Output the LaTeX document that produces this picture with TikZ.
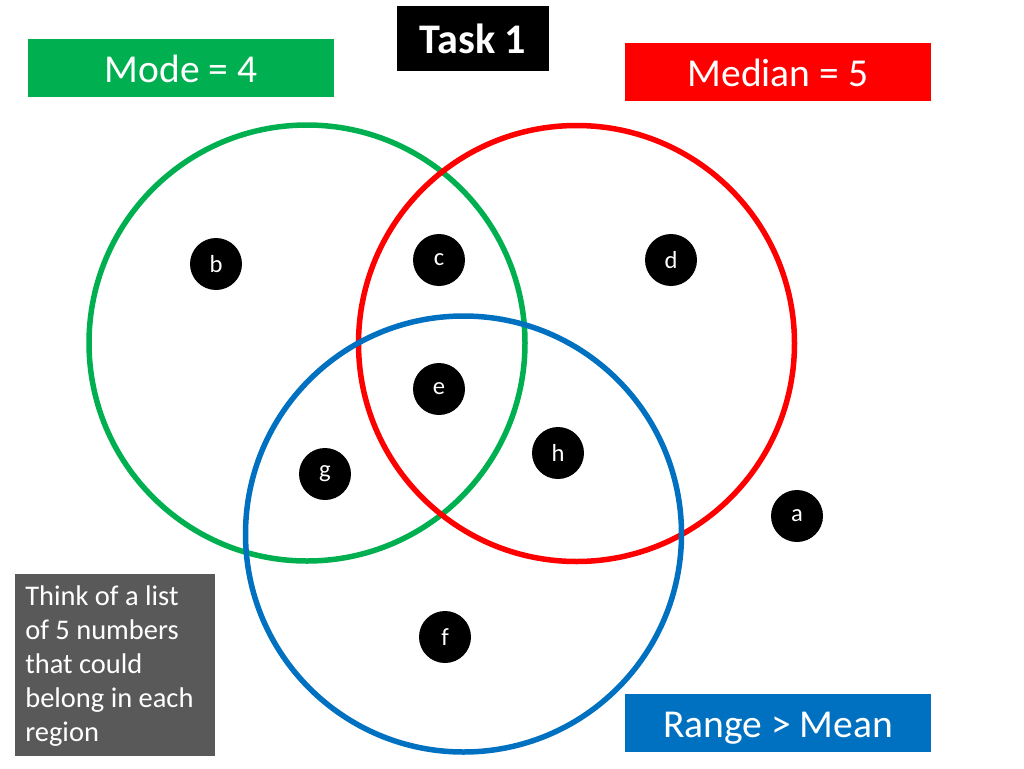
\documentclass[tikz,border=0pt]{standalone}
\usepackage{fontspec}
\setmainfont{Carlito}
\definecolor{vgreen}{RGB}{0,176,80}
\definecolor{vblue}{RGB}{0,112,192}
\definecolor{vgray}{RGB}{89,89,89}
\begin{document}
\begin{tikzpicture}[x=0.02cm, y=-0.02cm,
  ring/.style={line width=0.11cm},
  spot/.style={circle, fill=black, text=white, minimum size=1.04cm, inner sep=0pt, font=\fontsize{14}{16}\selectfont},
  titlebox/.style={text=white, minimum width=6.12cm, minimum height=1.16cm, inner sep=0pt, text height=0.76cm, text depth=0.2cm, font=\fontsize{22.5}{26}\selectfont}]
\useasboundingbox (0,0) rectangle (1024,768);

% --- headings ---
\node[fill=black, text=white, minimum width=3.04cm, minimum height=1.3cm, inner sep=0pt, font=\fontsize{24}{28}\selectfont\bfseries] (task) at (473,38.5) {Task 1};
\node[titlebox, fill=vgreen] (mode) at (181,68) {Mode = 4};
\node[titlebox, fill=red] (median) at (778,72) {Median = 5};
\node[titlebox, fill=vblue] (range) at (778,723) {Range > Mean};

% --- circles ---
\draw[ring, vgreen] (307,343) circle (218);
\draw[ring, red] (576.5,343.5) circle (218);
\draw[ring, vblue] (463.5,534) circle (218);

% --- regions ---
\node[spot] (b) at (216,264) {b};
\node[spot] (c) at (439,260) {c};
\node[spot] (d) at (671,260) {d};
\node[spot] (e) at (439,389) {e};
\node[spot] (h) at (558,453) {h};
\node[spot] (g) at (325,474) {g};
\node[spot] (a) at (797,516) {a};
\node[spot] (f) at (445,637) {f};

% --- hint ---
\fill[vgray] (15,574) rectangle (215,756);
\node[anchor=north west, text=white, align=left, inner sep=0pt, font=\fontsize{16.2}{19.4}\selectfont] (think) at (25,585) {Think of a list\\of 5 numbers\\that could\\belong in each\\region};

\end{tikzpicture}
\end{document}
